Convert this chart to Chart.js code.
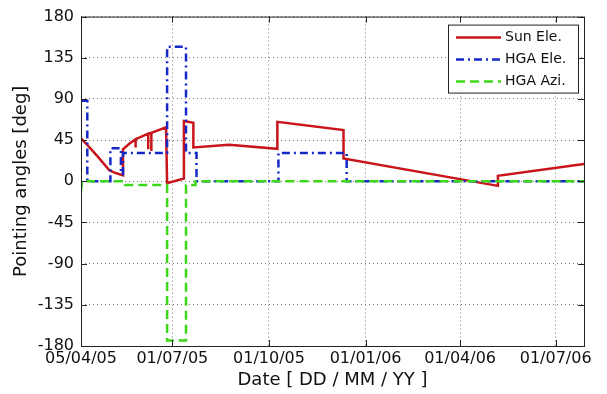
<!DOCTYPE html>
<html>
<head>
<meta charset="utf-8">
<script src="https://cdn.jsdelivr.net/npm/chart.js@4.4.1/dist/chart.umd.min.js"></script>
<style>
  html, body { margin: 0; padding: 0; background: #fff; }
  canvas { display: block; }
</style>
</head>
<body>
<canvas id="c" width="607" height="394"></canvas>
<script>
// Pointing angles over the mission period (degrees)
const startDate = '2005-04-05';
const endDate = '2006-07-28';

const sunDates = [
  '2005-04-05', '2005-04-10', '2005-04-21', '2005-05-02', '2005-05-08', '2005-05-15',
  '2005-05-15', '2005-05-21', '2005-05-27', '2005-05-27', '2005-05-27', '2005-05-31',
  '2005-06-08', '2005-06-08', '2005-06-08', '2005-06-11', '2005-06-11', '2005-06-11',
  '2005-06-25', '2005-06-26', '2005-07-12', '2005-07-12', '2005-07-21', '2005-07-21',
  '2005-08-24', '2005-10-09', '2005-10-09', '2005-12-11', '2005-12-11', '2006-05-07',
  '2006-05-07', '2006-07-28'
];
const sunValues = [
  47, 41, 27, 12, 9, 6.5,
  35, 41, 46, 37, 46, 48,
  52, 35, 52, 53, 33, 53,
  59, -2, 3, 66, 64, 37,
  40, 35.5, 65, 56, 25, -5,
  6, 19
];

const hgaEleDates = [
  '2005-04-05', '2005-04-11', '2005-04-11', '2005-05-03', '2005-05-03', '2005-05-13',
  '2005-05-13', '2005-05-15', '2005-05-15', '2005-06-26', '2005-06-26', '2005-07-14',
  '2005-07-14', '2005-07-24', '2005-07-24', '2005-10-10', '2005-10-10', '2005-12-14',
  '2005-12-14', '2006-07-28'
];
const hgaEleValues = [
  88, 88, 0, 0, 36, 36,
  8, 8, 31, 31, 147, 147,
  31, 31, 0, 0, 31, 31,
  0, 0
];

const hgaAziDates = [
  '2005-04-05', '2005-04-06', '2005-05-17', '2005-05-17', '2005-06-26', '2005-06-26',
  '2005-07-14', '2005-07-14', '2005-07-23', '2005-07-23', '2006-07-28'
];
const hgaAziValues = [
  -11, 0, 0, -4, -4, -174,
  -174, -4, -4, 0, 0
];

const tickDates = ['2005-04-05', '2005-07-01', '2005-10-01', '2006-01-01', '2006-04-01', '2006-07-01'];
const tickLabels = ['05/04/05', '01/07/05', '01/10/05', '01/01/06', '01/04/06', '01/07/06'];
const yTicks = [-180, -135, -90, -45, 0, 45, 90, 135, 180];

const seriesNames = ['Sun Ele.', 'HGA Ele.', 'HGA Azi.'];

// days elapsed since the first date
const DAY = 86400000;
function dayOf(s) {
  const [y, m, d] = s.split('-').map(Number);
  const [y0, m0, d0] = startDate.split('-').map(Number);
  return (Date.UTC(y, m - 1, d) - Date.UTC(y0, m0 - 1, d0)) / DAY;
}
const toPoints = (dates, vals) => dates.map((d, i) => ({ x: dayOf(d), y: vals[i] }));

const tickDays = tickDates.map(dayOf);
const FONT = 'DejaVu Sans';

// box frame with inward tick marks on all four sides
const framePlugin = {
  id: 'frame',
  afterDatasetsDraw(chart) {
    const { ctx, chartArea: a, scales } = chart;
    ctx.save();
    ctx.strokeStyle = '#222';
    ctx.lineWidth = 1;
    ctx.strokeRect(a.left + 0.5, a.top + 0.5, a.right - a.left, a.bottom - a.top);
    ctx.beginPath();
    const L = 6;
    scales.x.ticks.forEach(t => {
      const x = Math.round(scales.x.getPixelForValue(t.value)) + 0.5;
      ctx.moveTo(x, a.bottom); ctx.lineTo(x, a.bottom - L);
      ctx.moveTo(x, a.top); ctx.lineTo(x, a.top + L);
    });
    scales.y.ticks.forEach(t => {
      const y = Math.round(scales.y.getPixelForValue(t.value)) + 0.5;
      ctx.moveTo(a.left, y); ctx.lineTo(a.left + L, y);
      ctx.moveTo(a.right, y); ctx.lineTo(a.right - L, y);
    });
    ctx.stroke();
    ctx.restore();
  }
};

// boxed legend in the upper right corner of the plot
const legendPlugin = {
  id: 'boxLegend',
  afterDraw(chart) {
    const { ctx, chartArea: a } = chart;
    const w = 130, h = 68;
    const x0 = a.right - 6 - w, y0 = a.top + 8;
    ctx.save();
    ctx.fillStyle = '#fff';
    ctx.fillRect(x0, y0, w, h);
    ctx.strokeStyle = '#222';
    ctx.lineWidth = 1;
    ctx.strokeRect(x0 + 0.5, y0 + 0.5, w, h);
    ctx.font = '14px "' + FONT + '"';
    ctx.textBaseline = 'middle';
    ctx.fillStyle = '#111';
    chart.data.datasets.forEach((ds, i) => {
      const y = y0 + 13 + i * 22;
      ctx.beginPath();
      ctx.strokeStyle = ds.borderColor;
      ctx.lineWidth = ds.borderWidth;
      ctx.setLineDash(ds.borderDash || []);
      ctx.moveTo(x0 + 8, y);
      ctx.lineTo(x0 + 53, y);
      ctx.stroke();
      ctx.setLineDash([]);
      ctx.fillText(ds.label, x0 + 57, y);
    });
    ctx.restore();
  }
};

new Chart(document.getElementById('c'), {
  type: 'line',
  data: {
    datasets: [
      {
        label: seriesNames[0],
        data: toPoints(sunDates, sunValues),
        borderColor: '#c8141a',
        borderWidth: 2.5,
        borderDash: [],
        order: 3
      },
      {
        label: seriesNames[1],
        data: toPoints(hgaEleDates, hgaEleValues),
        borderColor: '#1428c8',
        borderWidth: 2.5,
        borderDash: [8, 4, 2, 4],
        order: 2
      },
      {
        label: seriesNames[2],
        data: toPoints(hgaAziDates, hgaAziValues),
        borderColor: '#3cd81a',
        borderWidth: 2.5,
        borderDash: [9, 5],
        order: 1
      }
    ]
  },
  options: {
    responsive: false,
    animation: false,
    events: [],
    layout: { padding: { left: 0, right: 23, top: 16, bottom: 0 } },
    elements: {
      point: { radius: 0 },
      line: { tension: 0, fill: false, borderCapStyle: 'butt', borderJoinStyle: 'miter' }
    },
    plugins: { legend: { display: false }, tooltip: { enabled: false } },
    scales: {
      x: {
        type: 'linear',
        min: 0,
        max: dayOf(endDate),
        afterBuildTicks(s) { s.ticks = tickDays.map(v => ({ value: v })); },
        afterFit(s) { s.height = 48; },
        ticks: {
          autoSkip: false,
          maxRotation: 0,
          padding: 3,
          color: '#111',
          font: { family: FONT, size: 16 },
          callback: (v) => tickLabels[tickDays.indexOf(v)]
        },
        grid: { color: '#777', lineWidth: 1, drawTicks: false },
        border: { display: false, dash: [1, 3] },
        title: {
          display: true,
          text: 'Date [ DD / MM / YY ]',
          color: '#111',
          font: { family: FONT, size: 18 },
          padding: { top: 0, bottom: 3 }
        }
      },
      y: {
        min: -180,
        max: 180,
        afterBuildTicks(s) { s.ticks = yTicks.map(v => ({ value: v })); },
        afterFit(s) { s.width = 81; },
        ticks: {
          padding: 7,
          color: '#111',
          font: { family: FONT, size: 16 }
        },
        grid: { color: '#777', lineWidth: 1, drawTicks: false },
        border: { display: false, dash: [1, 3] },
        title: {
          display: true,
          text: 'Pointing angles [deg]',
          color: '#111',
          font: { family: FONT, size: 18 },
          padding: { top: 11, bottom: 0 }
        }
      }
    }
  },
  plugins: [framePlugin, legendPlugin]
});
</script>
</body>
</html>
